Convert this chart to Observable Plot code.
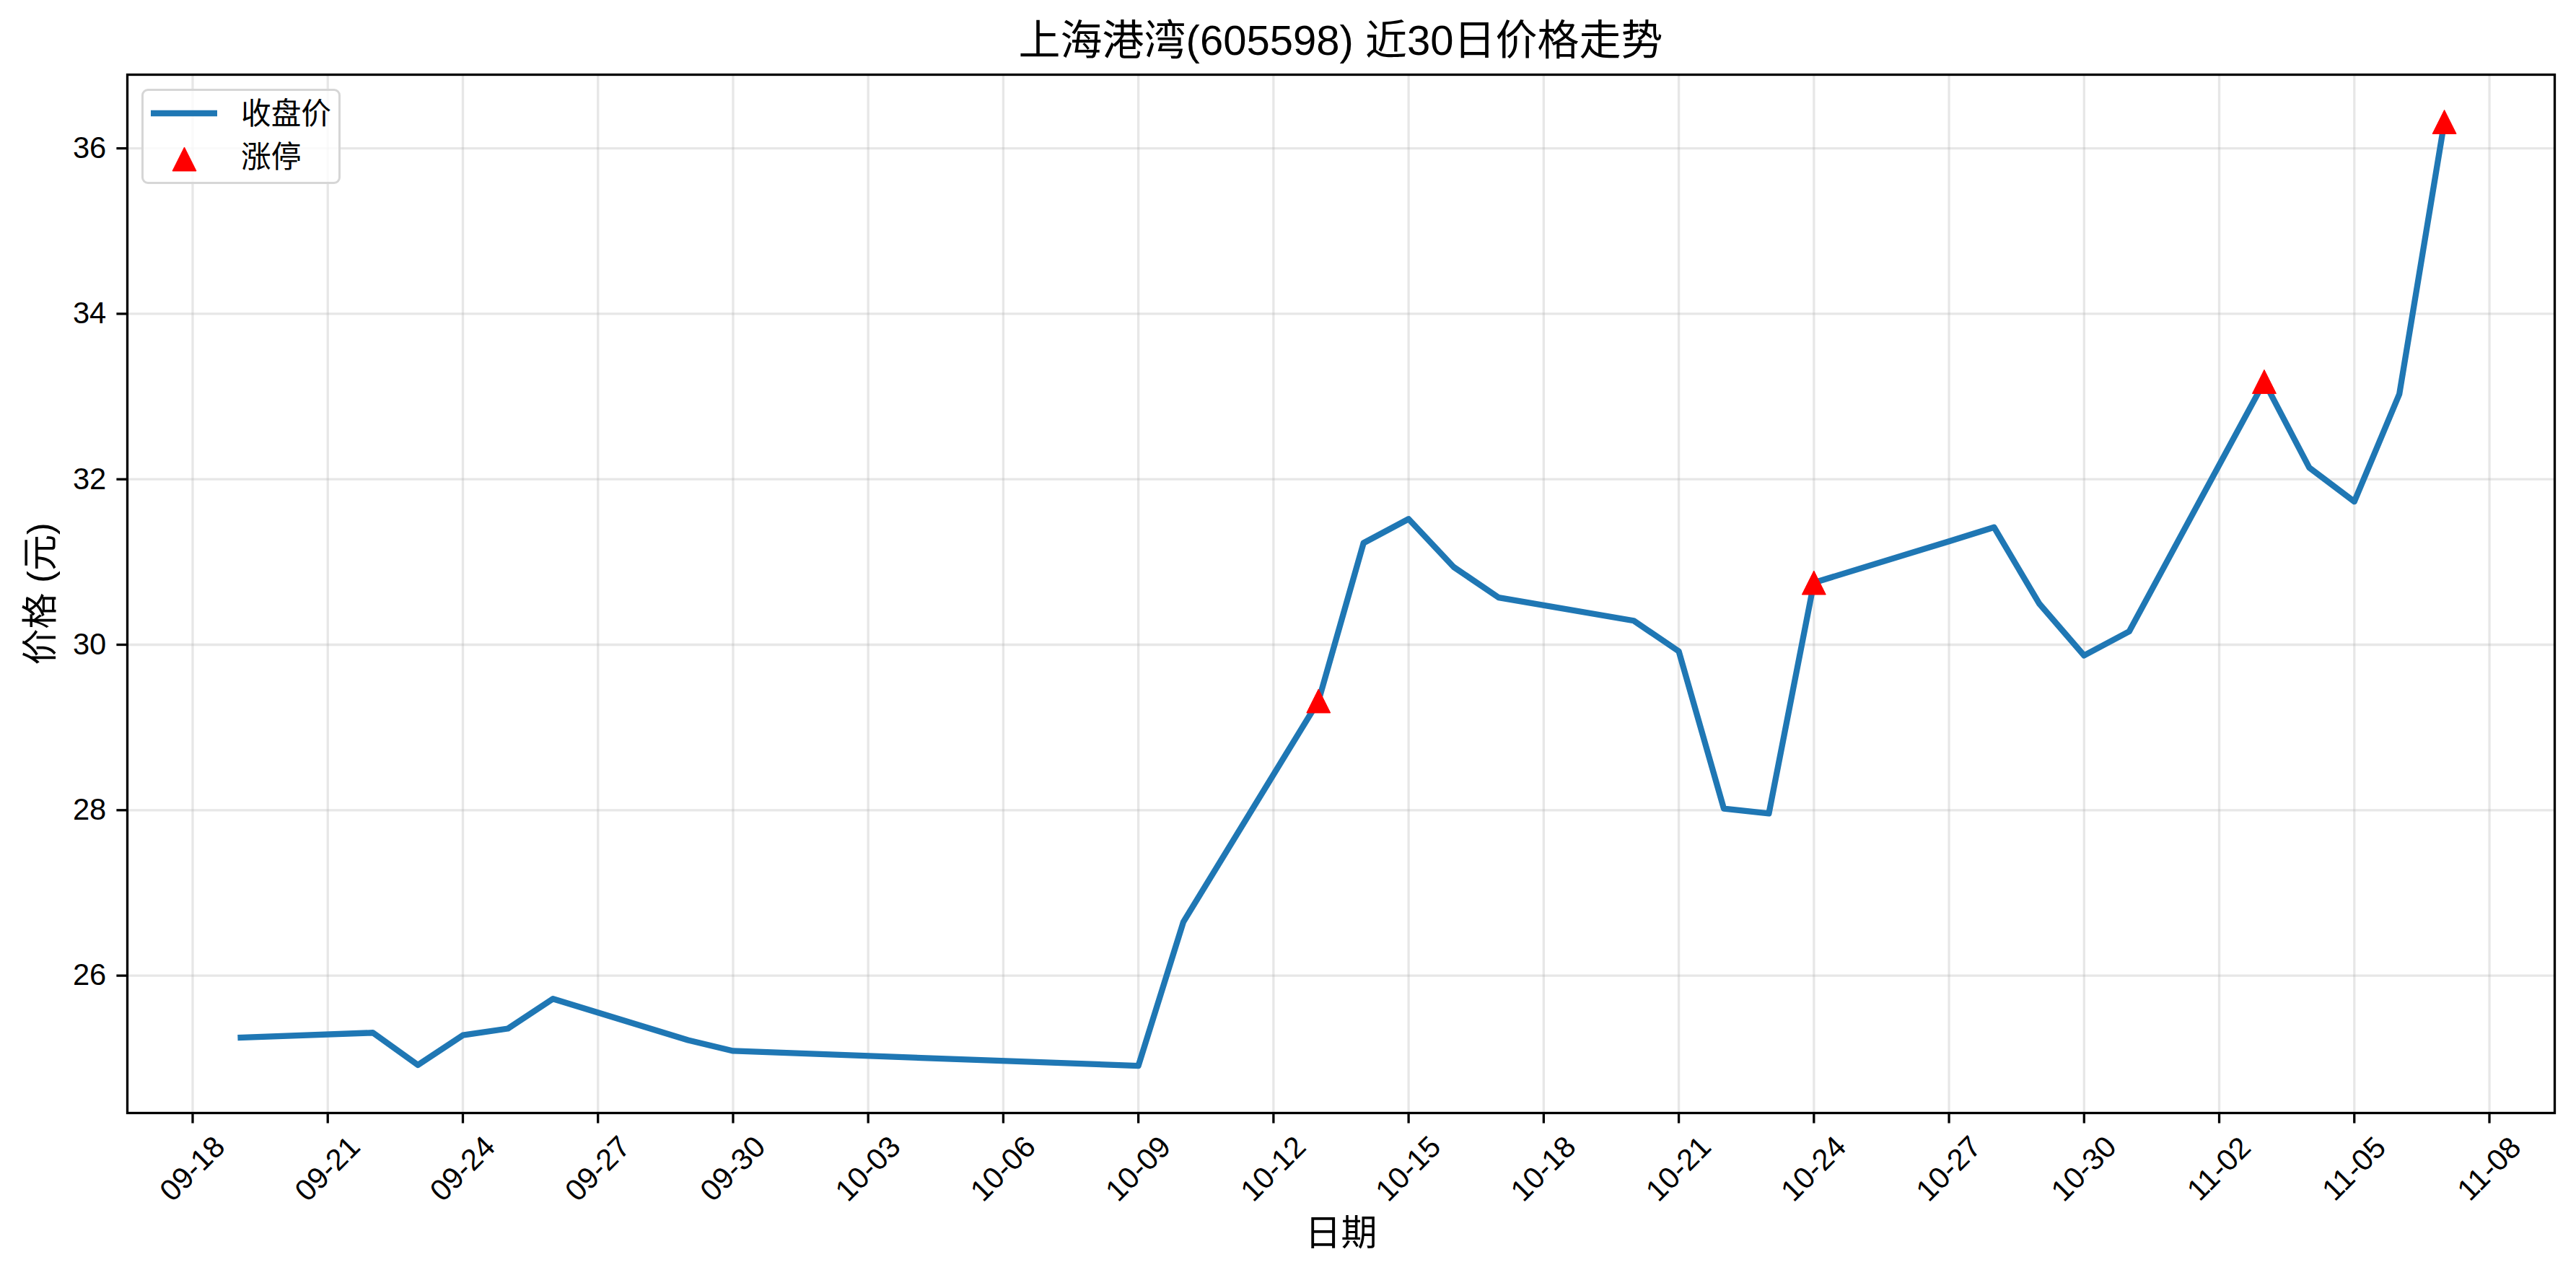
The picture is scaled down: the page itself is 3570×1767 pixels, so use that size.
<!DOCTYPE html>
<html><head><meta charset="utf-8">
<script src="https://cdn.jsdelivr.net/npm/d3@7"></script>
<script src="https://cdn.jsdelivr.net/npm/@observablehq/plot@0.6"></script>
<style>
body{margin:0;background:#fff;}
#wrap{position:relative;width:3570px;height:1767px;font-family:"Liberation Sans","Noto Sans CJK SC",sans-serif;color:#000;}
#title{box-sizing:border-box;width:3570px;height:101px;padding:11px 30px 0 176px;line-height:90px;font-size:58px;text-align:center;white-space:nowrap;}
#legend{position:absolute;left:196px;top:123px;width:276px;height:132px;box-sizing:border-box;border:3px solid #d6d6d6;border-radius:9px;background:rgba(255,255,255,0.8);}
#legend svg{position:absolute;left:0;top:0;}
</style></head><body>
<div id="wrap"><div id="title"></div><div id="chart"></div><div id="legend"></div></div>
<script>
// ---- data ----
const dates = ["2025-09-19","2025-09-22","2025-09-23","2025-09-24","2025-09-25","2025-09-26","2025-09-29","2025-09-30","2025-10-09","2025-10-10","2025-10-13","2025-10-14","2025-10-15","2025-10-16","2025-10-17","2025-10-20","2025-10-21","2025-10-22","2025-10-23","2025-10-24","2025-10-27","2025-10-28","2025-10-29","2025-10-30","2025-10-31","2025-11-03","2025-11-04","2025-11-05","2025-11-06","2025-11-07"];
const closes = [25.25,25.31,24.92,25.28,25.36,25.72,25.22,25.09,24.91,26.65,29.32,31.23,31.52,30.94,30.57,30.29,29.92,28.02,27.96,30.75,31.25,31.42,30.50,29.87,30.16,33.18,32.14,31.73,33.03,36.32];
const limitUpDates = ["2025-10-13","2025-10-24","2025-11-03","2025-11-07"];
const xTickDates = ["2025-09-18","2025-09-21","2025-09-24","2025-09-27","2025-09-30","2025-10-03","2025-10-06","2025-10-09","2025-10-12","2025-10-15","2025-10-18","2025-10-21","2025-10-24","2025-10-27","2025-10-30","2025-11-02","2025-11-05","2025-11-08"];
const yTicks = [26,28,30,32,34,36];
const titleText = "上海港湾(605598) 近30日价格走势";
const seriesLabels = ["收盘价","涨停"];
const xLabel = "日期";
const yLabel = "价格 (元)";

// ---- build ----
const parse = s => new Date(s + "T00:00:00Z");
const rows = dates.map((d, i) => ({date: parse(d), close: closes[i]}));
const limitRows = rows.filter(r => limitUpDates.includes(d3.utcFormat("%Y-%m-%d")(r.date)));
const xTicks = xTickDates.map(parse);

const [x0, x1] = d3.extent(rows, r => +r.date);
const xPad = (x1 - x0) * 0.05;
const [y0, y1] = d3.extent(closes);
const yPad = (y1 - y0) * 0.05;

const mplTriangle = {draw(ctx, size) {const h = Math.sqrt(size) / 2; ctx.moveTo(0, -h); ctx.lineTo(-h, h); ctx.lineTo(h, h); ctx.closePath();}};

const FONT = '"Liberation Sans","Noto Sans CJK SC",sans-serif';
const chart = Plot.plot({
  width: 3570, height: 1666,
  marginLeft: 176, marginRight: 30, marginTop: 2, marginBottom: 225,
  style: {fontFamily: FONT, fontSize: "41.7px", color: "#000", background: "#fff", overflow: "visible"},
  x: {type: "utc", domain: [new Date(x0 - xPad), new Date(x1 + xPad)]},
  y: {domain: [y0 - yPad, y1 + yPad]},
  marks: [
    Plot.gridX(xTicks, {stroke: "#b0b0b0", strokeOpacity: 0.3, strokeWidth: 3.3}),
    Plot.gridY(yTicks, {stroke: "#b0b0b0", strokeOpacity: 0.3, strokeWidth: 3.3}),
    Plot.line(rows, {x: "date", y: "close", stroke: "#1f77b4", strokeWidth: 8.3, strokeLinejoin: "round", strokeLinecap: "butt"}),
    Plot.dot(limitRows, {x: "date", y: "close", symbol: mplTriangle, r: 18.6, fill: "red", stroke: "red", strokeWidth: 1}),
    Plot.frame({stroke: "#000", strokeWidth: 3.3}),
    Plot.axisY(yTicks, {tickSize: 14.6, tickPadding: 14.6, strokeWidth: 3.3, fontSize: 41.7, tickFormat: d3.format("d"), label: null}),
    Plot.axisX(xTicks, {tickSize: 14.6, tickPadding: 63, strokeWidth: 3.3, fontSize: 41.7, tickRotate: -45, textAnchor: "middle", lineAnchor: "middle", tickFormat: d3.utcFormat("%m-%d"), label: null}),
    Plot.text([yLabel], {frameAnchor: "left", rotate: -90, dx: -120, fontSize: 50, textAnchor: "middle", lineAnchor: "middle"}),
    Plot.text([xLabel], {frameAnchor: "bottom", dy: 167, fontSize: 50, textAnchor: "middle", lineAnchor: "middle"})
  ]
});
document.getElementById("chart").appendChild(chart);
document.getElementById("title").textContent = titleText;

// legend
const lg = d3.select("#legend").append("svg").attr("width", 270).attr("height", 126);
lg.append("line").attr("x1", 10).attr("x2", 102).attr("y1", 31).attr("y2", 31).attr("stroke", "#1f77b4").attr("stroke-width", 8.3);
lg.append("path").attr("d", d3.symbol(mplTriangle, 33*33)()).attr("transform", "translate(56.5,94.5)").attr("fill", "red").attr("stroke", "red").attr("stroke-width", 1).attr("stroke-linejoin", "round");
lg.selectAll("text").data(seriesLabels).join("text")
  .attr("x", 135).attr("y", (d, i) => i === 0 ? 31 : 91)
  .attr("dominant-baseline", "central")
  .attr("font-size", 41.7).attr("font-family", FONT).attr("fill", "#000")
  .text(d => d);
</script>
</body></html>
